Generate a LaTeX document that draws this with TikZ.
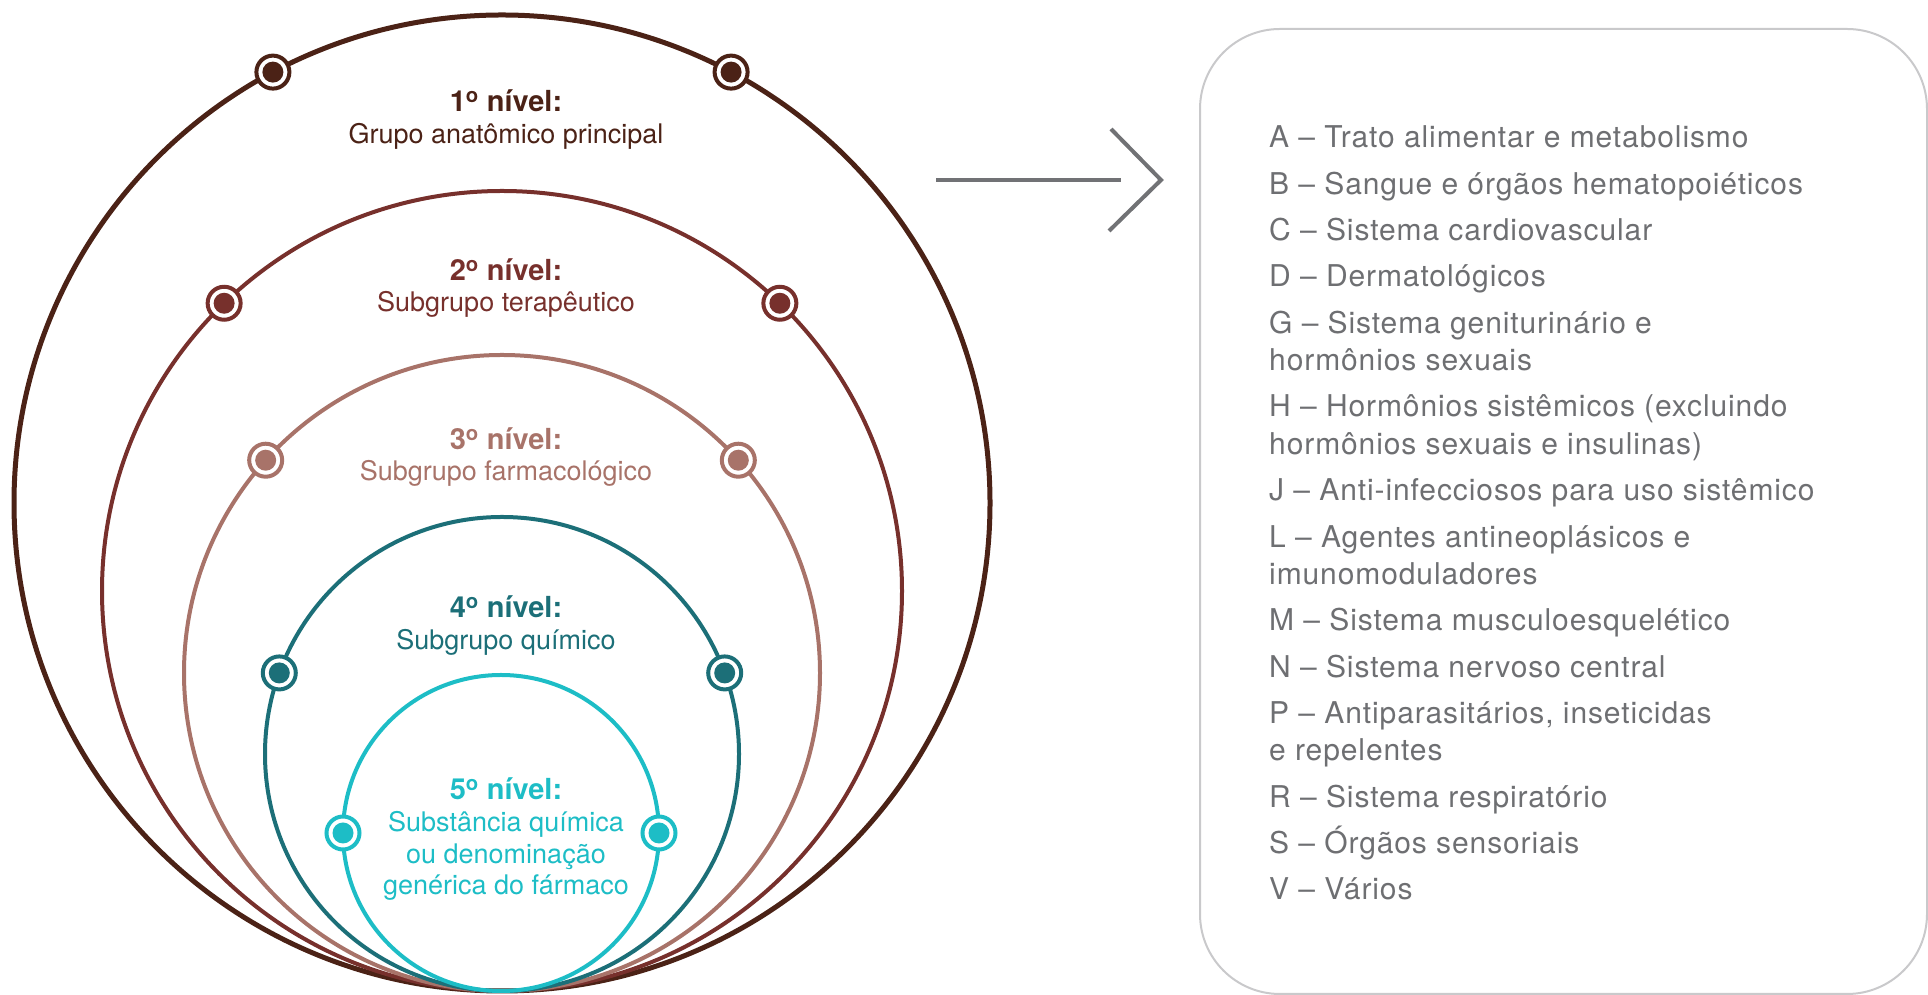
\documentclass[tikz,border=0pt]{standalone}
\usepackage{fontspec}
\setmainfont{TeX Gyre Heros}
\newfontfamily\listfont[LetterSpace=3]{TeX Gyre Heros}
\usepackage{tikz}

\definecolor{lvA}{HTML}{4B2216}
\definecolor{lvB}{HTML}{77302C}
\definecolor{lvC}{HTML}{A87369}
\definecolor{lvD}{HTML}{1C6F78}
\definecolor{lvE}{HTML}{1DBDC6}
\definecolor{listgray}{HTML}{6E6F72}
\definecolor{boxgray}{HTML}{C9C9CB}
\definecolor{arrowgray}{HTML}{717275}

\newcommand{\ordo}{\textsuperscript{o}}

\begin{document}
\begin{tikzpicture}[x=1pt, y=1pt,
  marker/.style={circle, draw=#1, fill=white, line width=4pt, minimum size=33pt, inner sep=0pt},
  core/.style={circle, fill=#1, minimum size=21pt, inner sep=0pt},
  title/.style={anchor=base, inner sep=0pt, font=\fontsize{29}{32}\selectfont\bfseries},
  caption/.style={anchor=base, inner sep=0pt, align=center, font=\fontsize{27}{31.5}\selectfont},
  item/.style={anchor=base west, inner sep=0pt, align=left, text=listgray, font=\fontsize{30}{37.5}\listfont}]
	\useasboundingbox (0,0) rectangle (1928,995);
	% nested levels, all touching at the bottom
	\coordinate (c1) at (502,492);
	\coordinate (c2) at (502,404);
	\coordinate (c3) at (502,322);
	\coordinate (c4) at (502,241);
	\coordinate (c5) at (501,162);
	\draw[lvA, line width=5pt] (c1) circle (488);
	\draw[lvB, line width=4pt] (c2) circle (400);
	\draw[lvC, line width=4pt] (c3) circle (318);
	\draw[lvD, line width=4pt] (c4) circle (237);
	\draw[lvE, line width=4pt] (c5) circle (158);
	% markers
	\node[marker=lvA] (m1l) at ([shift={(118:488)}]c1) {};
	\node[marker=lvA] (m1r) at ([shift={(62:488)}]c1) {};
	\node[marker=lvB] (m2l) at ([shift={(134:400)}]c2) {};
	\node[marker=lvB] (m2r) at ([shift={(46:400)}]c2) {};
	\node[marker=lvC] (m3l) at ([shift={(138:318)}]c3) {};
	\node[marker=lvC] (m3r) at ([shift={(42:318)}]c3) {};
	\node[marker=lvD] (m4l) at ([shift={(160:237)}]c4) {};
	\node[marker=lvD] (m4r) at ([shift={(20:237)}]c4) {};
	\node[marker=lvE] (m5l) at ([shift={(180:158)}]c5) {};
	\node[marker=lvE] (m5r) at ([shift={(0:158)}]c5) {};
	\node[core=lvA] at (m1l) {};
	\node[core=lvA] at (m1r) {};
	\node[core=lvB] at (m2l) {};
	\node[core=lvB] at (m2r) {};
	\node[core=lvC] at (m3l) {};
	\node[core=lvC] at (m3r) {};
	\node[core=lvD] at (m4l) {};
	\node[core=lvD] at (m4r) {};
	\node[core=lvE] at (m5l) {};
	\node[core=lvE] at (m5r) {};
	% labels
	\node[title, lvA] (lv1-title) at (506,883) {1\ordo{} nível:};
	\node[caption, lvA] (lv1-text) at (506,851) {Grupo anatômico principal};
	\node[title, lvB] (lv2-title) at (506,714) {2\ordo{} nível:};
	\node[caption, lvB] (lv2-text) at (506,683) {Subgrupo terapêutico};
	\node[title, lvC] (lv3-title) at (506,545) {3\ordo{} nível:};
	\node[caption, lvC] (lv3-text) at (506,514) {Subgrupo farmacológico};
	\node[title, lvD] (lv4-title) at (506,377) {4\ordo{} nível:};
	\node[caption, lvD] (lv4-text) at (506,345) {Subgrupo químico};
	\node[title, lvE] (lv5-title) at (506,195) {5\ordo{} nível:};
	\node[caption, lvE] (lv5-text) at (506,100) {Substância química\\ou denominação\\genérica do fármaco};
	% arrow
	\coordinate (arrow-start) at (936,815);
	\coordinate (arrow-end) at (1121,815);
	\coordinate (arrow-tip) at (1161,815);
	\draw[arrowgray, line width=4pt] (arrow-start) -- (arrow-end);
	\draw[arrowgray, line width=4pt] (1111,866) -- (arrow-tip) -- (1109,764);
	% ATC groups (two-line items sit on their last line)
	\draw[boxgray, line width=2pt, rounded corners=80pt] (1200,1) rectangle (1927,966);
	\node[item] (grp-a) at (1269,847) {A – Trato alimentar e metabolismo};
	\node[item] (grp-b) at (1269,800.7) {B – Sangue e órgãos hematopoiéticos};
	\node[item] (grp-c) at (1269,754.4) {C – Sistema cardiovascular};
	\node[item] (grp-d) at (1269,708.1) {D – Dermatológicos};
	\node[item] (grp-g) at (1269,624.3) {G – Sistema geniturinário e\\hormônios sexuais};
	\node[item] (grp-h) at (1269,540.5) {H – Hormônios sistêmicos (excluindo\\hormônios sexuais e insulinas)};
	\node[item] (grp-j) at (1269,494.2) {J – Anti-infecciosos para uso sistêmico};
	\node[item] (grp-l) at (1269,410.4) {L – Agentes antineoplásicos e\\imunomoduladores};
	\node[item] (grp-m) at (1269,364.1) {M – Sistema musculoesquelético};
	\node[item] (grp-n) at (1269,317.8) {N – Sistema nervoso central};
	\node[item] (grp-p) at (1269,234) {P – Antiparasitários, inseticidas\\e repelentes};
	\node[item] (grp-r) at (1269,187.7) {R – Sistema respiratório};
	\node[item] (grp-s) at (1269,141.4) {S – Órgãos sensoriais};
	\node[item] (grp-v) at (1269,95.1) {V – Vários};
\end{tikzpicture}
\end{document}
